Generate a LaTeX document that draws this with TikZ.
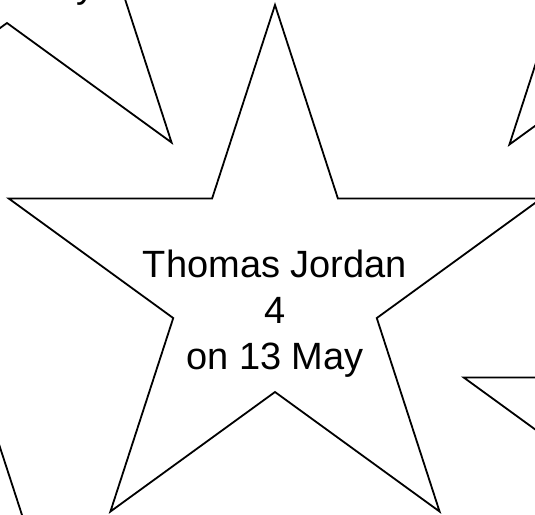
\documentclass[tikz,border=0pt]{standalone}
\usepackage{fontspec}
\setmainfont{Liberation Sans}
\usetikzlibrary{calc}

% five-pointed star, outer radius 280, inner radius 107, centred at (#1,#2)
\newcommand{\drawstarat}[2]{%
  \draw[starline, shift={(#1,#2)}] (-90:280)
    \foreach \k in {0,...,3} { -- ({-54+72*\k}:107) -- ({-18+72*\k}:280) }
    -- (234:107) -- cycle;%
}

\begin{document}
\begin{tikzpicture}[
    x=1pt, y=-1pt,
    starline/.style={draw=black, line width=1.8pt, line join=miter},
    startext/.style={font=\fontsize{38}{46}\selectfont, align=center, inner sep=0pt}
]
\useasboundingbox (0,0) rectangle (535,514);
\clip (0,0) rectangle (535,514);

% Stars
\drawstarat{7}{-84}
\drawstarat{674}{-82}
\drawstarat{275}{285}
\drawstarat{730}{464}
\drawstarat{-4}{715}

% Texts
\node[startext] (maintext) at (275,314) {Thomas Jordan\\4\\on 13 May};
\node[startext, anchor=base] (cornertext) at (7,-2) {on 12 May};

\end{tikzpicture}
\end{document}
